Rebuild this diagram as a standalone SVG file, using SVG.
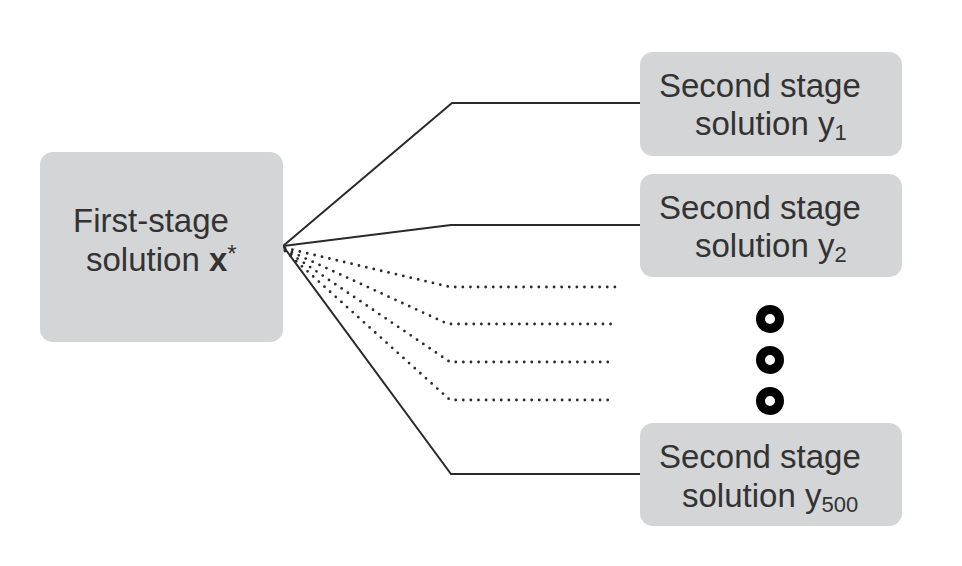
<svg xmlns="http://www.w3.org/2000/svg" width="962" height="566" viewBox="0 0 962 566">
<style>
.box{fill:#d3d5d6}
.t{font-family:"Liberation Sans",Arial,sans-serif;font-size:33px;fill:#333}
.sub{font-size:22px}
.solid{fill:none;stroke:#2a2a2a;stroke-width:2}
.dot{fill:none;stroke:#2a2a2a;stroke-width:2.8;stroke-dasharray:0 7.6;stroke-linecap:round}
.ring{fill:none;stroke:#000;stroke-width:9}
</style>
<rect width="962" height="566" fill="#fff"/>
<g id="connectors">
<path class="solid" d="M283 246 L452 103 L640 103"/>
<path class="solid" d="M283 246 L451 225 L640 225"/>
<path class="solid" d="M283 246 L451 474 L640 474"/>
<path class="dot" d="M285 248 L450 287 L615 287"/>
<path class="dot" d="M285 249 L448 324 L615 324"/>
<path class="dot" d="M285 250 L450 362 L615 362"/>
<path class="dot" d="M285 251 L450 400 L615 400"/>
</g>
<g id="first">
<rect class="box" x="40" y="152" width="243" height="190" rx="13"/>
<text class="t" x="73" y="232">First-stage</text>
<text class="t" x="86" y="271">solution <tspan font-weight="bold">x</tspan><tspan font-size="24" dy="-9">*</tspan></text>
</g>
<g id="y1">
<rect class="box" x="640" y="52" width="262" height="104" rx="13"/>
<text class="t" x="659" y="97">Second stage</text>
<text class="t" x="695" y="135">solution y<tspan class="sub" dy="5">1</tspan></text>
</g>
<g id="y2">
<rect class="box" x="640" y="174" width="262" height="103" rx="13"/>
<text class="t" x="659" y="219">Second stage</text>
<text class="t" x="695" y="257">solution y<tspan class="sub" dy="5">2</tspan></text>
</g>
<g id="ellipsis">
<circle class="ring" cx="770" cy="319" r="9.5"/>
<circle class="ring" cx="770" cy="360" r="9.5"/>
<circle class="ring" cx="770" cy="401" r="9.5"/>
</g>
<g id="y500">
<rect class="box" x="640" y="423" width="262" height="103" rx="13"/>
<text class="t" x="659" y="468">Second stage</text>
<text class="t" x="682" y="507">solution y<tspan class="sub" dy="5">500</tspan></text>
</g>
</svg>
